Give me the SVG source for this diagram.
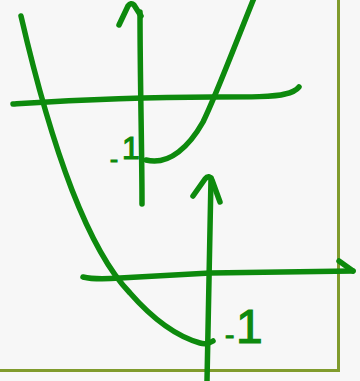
<svg xmlns="http://www.w3.org/2000/svg" width="360" height="381" viewBox="0 0 360 381">
<style>
.g{fill:none;stroke:#0d8a0d;stroke-width:5.5;stroke-linecap:round;stroke-linejoin:round}
.lbl{fill:#0d8a0d;stroke:#0d8a0d;stroke-width:1.2;font-family:"Liberation Sans",Arial,sans-serif}
.frame{fill:none;stroke:#809b2c;stroke-width:3}
</style>
<rect x="0" y="0" width="360" height="381" fill="#f7f7f7"/>
<path class="frame" d="M338.5,0 V370.5 H0"/>
<g id="upper-axes">
<path class="g" d="M140,12 C140,80 142,150 142,204"/>
<path class="g" d="M119,25 L128,6 Q131,2 134,5 L141,16"/>
<path class="g" d="M13,104 C60,101 120,97 213,97 C250,97 275,97 285,94 Q295,92 299,87"/>
</g>
<g id="upper-curve">
<path class="g" d="M146,160 C170,166 190,145 203,122 C215,98 235,45 254,-2"/>
<text class="lbl" font-size="32"><tspan x="110" y="167" font-size="24">-</tspan><tspan x="122" y="159">1</tspan></text>
</g>
<g id="lower-axes">
<path class="g" d="M211,178 L207,381"/>
<path class="g" d="M193,196 L205,179 Q209,174 212,180 L220,202"/>
<path class="g" d="M83,277 Q95,280 120,278 L210,273 L353,271"/>
<path class="g" d="M339,261 L353,271"/>
</g>
<g id="lower-curve">
<path class="g" d="M21,16 Q45,120 72,190 Q100,262 130,293 Q165,333 200,343 Q207,345 213,341"/>
<text class="lbl" font-size="48"><tspan x="225" y="344" font-size="28">-</tspan><tspan x="236" y="343">1</tspan></text>
</g>
</svg>
